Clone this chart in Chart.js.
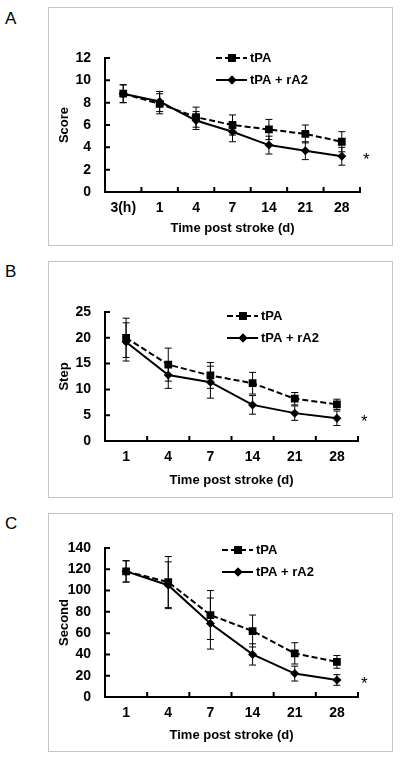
<!DOCTYPE html>
<html>
<head>
<meta charset="utf-8">
<script src="https://cdn.jsdelivr.net/npm/chart.js@4.4.1/dist/chart.umd.min.js"></script>
<style>
  body { margin: 0; background: #fff; width: 400px; height: 761px; position: relative; font-family: "Liberation Sans", Arial, sans-serif; }
  .frame { position: absolute; left: 48px; width: 343px; border: 1px solid #c4c4c4; }
  .frame canvas { display: block; }
  .letter { position: absolute; left: 5px; font-size: 17px; line-height: 17px; color: #000; }
</style>
</head>
<body>
<div class="letter" style="top:10px">A</div>
<div class="letter" style="top:263px">B</div>
<div class="letter" style="top:515px">C</div>
<div class="frame" style="top:7px;height:237px"><canvas id="chartA" width="343" height="237"></canvas></div>
<div class="frame" style="top:261px;height:235px"><canvas id="chartB" width="343" height="235"></canvas></div>
<div class="frame" style="top:513px;height:237px"><canvas id="chartC" width="343" height="237"></canvas></div>
<script>
// ---- data ----
const daysA = ['3(h)', '1', '4', '7', '14', '21', '28'];
const tpaA = [8.8, 7.9, 6.7, 6.0, 5.6, 5.2, 4.5];
const tpaErrA = [0.8, 0.9, 0.9, 0.9, 0.9, 0.8, 0.9];
const ra2A = [8.8, 8.1, 6.4, 5.4, 4.2, 3.7, 3.2];
const ra2ErrA = [0.8, 0.9, 0.8, 0.9, 0.8, 0.8, 0.8];

const daysBC = ['1', '4', '7', '14', '21', '28'];
const tpaB = [20.0, 14.8, 12.7, 11.2, 8.2, 7.1];
const tpaErrB = [3.8, 3.2, 2.5, 2.1, 1.2, 1.0];
const ra2B = [19.2, 12.8, 11.4, 7.0, 5.4, 4.4];
const ra2ErrB = [3.7, 2.6, 3.1, 1.8, 1.4, 1.4];

const tpaC = [118, 108, 77, 62, 41, 33];
const tpaErrC = [10, 24, 23, 15, 10, 6];
const ra2C = [118, 105, 69, 40, 22, 16];
const ra2ErrC = [10, 22, 24, 10, 7, 5];

const yMax = { A: 12, B: 25, C: 140 };
const yStep = { A: 2, B: 5, C: 20 };

// error bars, inward ticks, legend and the significance star
const figurePlugin = {
  id: 'figure',
  beforeDatasetsDraw(chart) {
    const { ctx } = chart;
    const y = chart.scales.y;
    ctx.save();
    ctx.strokeStyle = '#000';
    ctx.lineWidth = 1;
    chart.data.datasets.forEach((ds, i) => {
      const meta = chart.getDatasetMeta(i);
      meta.data.forEach((pt, j) => {
        const e = ds.errors[j];
        const top = y.getPixelForValue(ds.data[j] + e);
        const bot = y.getPixelForValue(ds.data[j] - e);
        ctx.beginPath();
        ctx.moveTo(pt.x, top); ctx.lineTo(pt.x, bot);
        ctx.moveTo(pt.x - 3.5, top); ctx.lineTo(pt.x + 3.5, top);
        ctx.moveTo(pt.x - 3.5, bot); ctx.lineTo(pt.x + 3.5, bot);
        ctx.stroke();
      });
    });
    ctx.restore();
  },
  afterDraw(chart, args, opts) {
    const { ctx, chartArea: a } = chart;
    const x = chart.scales.x, y = chart.scales.y;
    ctx.save();
    ctx.strokeStyle = '#000';
    ctx.lineWidth = 2;
    // inward tick marks
    ctx.beginPath();
    y.ticks.forEach(t => {
      const py = y.getPixelForValue(t.value);
      ctx.moveTo(a.left, py); ctx.lineTo(a.left + 5, py);
    });
    const n = x.ticks.length;
    for (let i = 1; i <= n; i++) {
      const px = a.left + i * (a.right - a.left) / n;
      ctx.moveTo(px, a.bottom); ctx.lineTo(px, a.bottom - 5);
    }
    ctx.stroke();

    // legend
    ctx.font = 'bold 13px "Liberation Sans", Arial, sans-serif';
    ctx.textBaseline = 'middle';
    ctx.fillStyle = '#000';
    chart.data.datasets.forEach((ds, i) => {
      const lx = a.left + opts.legendX;
      const ly = a.top + opts.legendY + i * 22;
      ctx.lineWidth = 2;
      ctx.setLineDash(ds.borderDash || []);
      ctx.beginPath();
      ctx.moveTo(lx, ly); ctx.lineTo(lx + 31, ly);
      ctx.stroke();
      ctx.setLineDash([]);
      Chart.helpers.drawPoint(ctx, { pointStyle: ds.pointStyle, radius: ds.pointRadius, borderWidth: 0 }, lx + 16, ly);
      ctx.fill();
      ctx.fillText(ds.label, lx + 34, ly);
    });

    // significance star beside the last treated point
    const last = chart.data.datasets[1].data.length - 1;
    ctx.font = '17px "Liberation Sans", Arial, sans-serif';
    ctx.textAlign = 'left';
    ctx.fillText('*', a.right + 3, y.getPixelForValue(chart.data.datasets[1].data[last]) + 4);
    ctx.restore();
  }
};

function makeChart(id, labels, tpa, tpaErr, ra2, ra2Err, max, step, yTitle, pad, legend) {
  const tickFont = { family: '"Liberation Sans", Arial, sans-serif', size: 14, weight: 'bold' };
  const titleFont = { family: '"Liberation Sans", Arial, sans-serif', size: 13, weight: 'bold' };
  return new Chart(document.getElementById(id), {
    type: 'line',
    data: {
      labels: labels,
      datasets: [
        { label: 'tPA', data: tpa, errors: tpaErr, borderColor: '#000', backgroundColor: '#000',
          borderWidth: 2, borderDash: [6, 3], pointStyle: 'rect', pointRadius: 5.5, pointBorderWidth: 0, tension: 0 },
        { label: 'tPA + rA2', data: ra2, errors: ra2Err, borderColor: '#000', backgroundColor: '#000',
          borderWidth: 2, pointStyle: 'rectRot', pointRadius: 4.5, pointBorderWidth: 0, tension: 0 }
      ]
    },
    options: {
      responsive: false,
      animation: false,
      events: [],
      layout: { padding: { left: 0, top: pad.top, right: pad.right, bottom: pad.bottom } },
      plugins: { legend: { display: false }, tooltip: { enabled: false }, figure: legend },
      scales: {
        x: {
          offset: true,
          grid: { display: false, drawTicks: false },
          border: { display: true, color: '#000', width: 2 },
          ticks: { color: '#000', font: tickFont, padding: 8, maxRotation: 0, autoSkip: false },
          title: { display: true, text: 'Time post stroke (d)', color: '#000', font: titleFont, padding: { top: 0, bottom: 0 } },
          afterFit: s => { s.height = pad.xh; }
        },
        y: {
          min: 0, max: max,
          grid: { display: false, drawTicks: false },
          border: { display: true, color: '#000', width: 2 },
          ticks: { stepSize: step, color: '#000', font: tickFont, padding: 14 },
          title: { display: true, text: yTitle, color: '#000', font: titleFont, padding: { top: 8, bottom: 0 } },
          afterFit: s => { s.width = 56; }
        }
      }
    },
    plugins: [figurePlugin]
  });
}

makeChart('chartA', daysA, tpaA, tpaErrA, ra2A, ra2ErrA, yMax.A, yStep.A, 'Score',
  { top: 50, right: 32, bottom: 9, xh: 44 }, { legendX: 111, legendY: 0 });
makeChart('chartB', daysBC, tpaB, tpaErrB, ra2B, ra2ErrB, yMax.B, yStep.B, 'Step',
  { top: 50, right: 34, bottom: 9, xh: 47 }, { legendX: 122, legendY: 4 });
makeChart('chartC', daysBC, tpaC, tpaErrC, ra2C, ra2ErrC, yMax.C, yStep.C, 'Second',
  { top: 34, right: 34, bottom: 8, xh: 46 }, { legendX: 117, legendY: 2 });
</script>
</body>
</html>
